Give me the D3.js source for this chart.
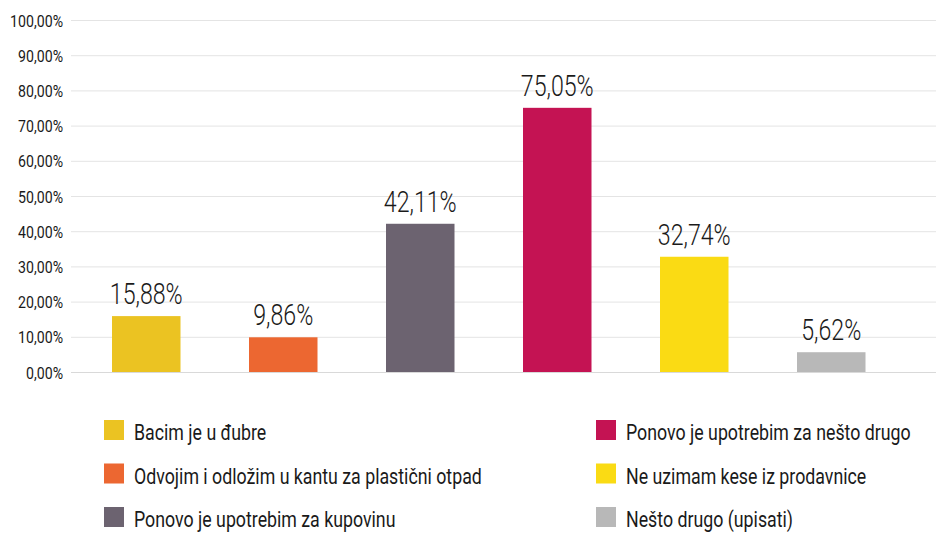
<!DOCTYPE html>
<html><head><meta charset="utf-8">
<script src="https://cdn.jsdelivr.net/npm/d3@7/dist/d3.min.js"></script>
<style>
body{margin:0;background:#fff;}
text{font-family:Roboto,"DejaVu Sans Condensed",sans-serif;fill:#1a1a1a;}
</style></head><body>
<svg id="c" width="936" height="534"></svg>
<script>
const categories = ["Bacim je u đubre","Odvojim i odložim u kantu za plastični otpad","Ponovo je upotrebim za kupovinu","Ponovo je upotrebim za nešto drugo","Ne uzimam kese iz prodavnice","Nešto drugo (upisati)"];
const values = [15.88, 9.86, 42.11, 75.05, 32.74, 5.62];
const colors = ["#EBC322","#EC6731","#6C6370","#C41353","#FADB14","#B8B8B8"];
const yTicks = [0,10,20,30,40,50,60,70,80,90,100];

const svg = d3.select("#c");
const fmt = v => v.toFixed(2).replace(".", ",") + "%";
const x = d3.scaleBand().domain(categories).range([77.75, 899.75]).paddingInner(0.5).paddingOuter(0.25);
const y = d3.scaleLinear().domain([0,100]).range([372, 20]);

function factor(str, size, target, weight){
  const t = svg.append("text").style("font-size",size+"px").style("font-weight",weight||400).text(str);
  const w = t.node().getComputedTextLength(); t.remove();
  return target / w;
}
const fTick = factor("100,00%", 17, 53);
const fVal = factor("75,05%", 29, 73, 300);
const fLeg = factor(categories[1], 22, 348);

svg.append("g").selectAll("line").data(yTicks).join("line")
  .attr("x1",71).attr("x2",936).attr("y1",d=>y(d)+0.5).attr("y2",d=>y(d)+0.5)
  .attr("stroke",d=>d===0?"#d9d9d9":"#e4e4e4").attr("stroke-width",1);

const yAxis = d3.axisLeft(y).tickValues(yTicks).tickFormat(fmt).tickSize(0).tickPadding(8);
const gy = svg.append("g").attr("transform","translate(71,0)").call(yAxis);
gy.select(".domain").remove();
gy.selectAll("text").style("font-size","17px").attr("fill","#1a1a1a")
  .attr("x",0).attr("dy",null).attr("y",6)
  .attr("transform",`translate(-8,0) scale(${fTick},1)`);

svg.append("g").selectAll("rect").data(values).join("rect")
  .attr("x",(d,i)=>x(categories[i])).attr("width",x.bandwidth())
  .attr("y",d=>y(d)).attr("height",d=>y(0)-y(d)).attr("fill",(d,i)=>colors[i]);

svg.append("g").selectAll("text").data(values).join("text")
  .attr("transform",(d,i)=>`translate(${x(categories[i])+x.bandwidth()/2},${y(d)-12}) scale(${fVal},1)`)
  .attr("text-anchor","middle").style("font-size","29px").style("font-weight",300).attr("fill","#111").text(fmt);

const leg = svg.append("g");
categories.forEach((c,i)=>{
  const col = Math.floor(i/3), row = i%3;
  const lx = col===0?104:596, ly = 420 + row*43.5;
  leg.append("rect").attr("x",lx).attr("y",ly).attr("width",20).attr("height",20).attr("fill",colors[i]);
  leg.append("text").attr("transform",`translate(${lx+30},${ly+20}) scale(${fLeg},1)`)
    .style("font-size","22px").text(c);
});
</script></body></html>
